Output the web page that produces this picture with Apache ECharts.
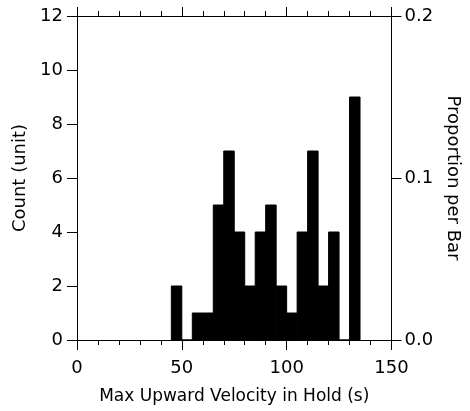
<!DOCTYPE html>
<html><head><meta charset="utf-8">
<script src="https://cdn.jsdelivr.net/npm/echarts@6/dist/echarts.min.js"></script>
<style>html,body{margin:0;padding:0;background:#fff}#c{width:470px;height:411px}</style>
</head><body><div id="c"></div>
<script>
// bin edges (start of each 5-unit bin) and counts
const binStarts = [45, 50, 55, 60, 65, 70, 75, 80, 85, 90, 95, 100, 105, 110, 115, 120, 125, 130];
const binWidth = 5;
const counts = [2, 0, 1, 1, 5, 7, 4, 2, 4, 5, 2, 1, 4, 7, 2, 4, 0, 9];
const xTicks = [0, 50, 100, 150];
const countTicks = [0, 2, 4, 6, 8, 10, 12];
const propTicks = [0.0, 0.1, 0.2];

const data = binStarts.map((s, i) => [s, s + binWidth, counts[i]]);
const font = 'DejaVu Sans, sans-serif';
const chart = echarts.init(document.getElementById('c'), null, {renderer: 'canvas'});
const lineStyle = {color: '#000', width: 1};
chart.setOption({
  animation: false,
  backgroundColor: '#fff',
  grid: {left: 77, right: 75, top: 16, bottom: 71, containLabel: false},
  xAxis: [{
    type: 'value', min: xTicks[0], max: xTicks[xTicks.length - 1], interval: 50,
    position: 'bottom',
    axisLine: {onZero: false, lineStyle}, splitLine: {show: false},
    axisTick: {show: true, length: 10, lineStyle},
    minorTick: {show: true, splitNumber: 5, length: 5, lineStyle},
    axisLabel: {color: '#000', fontSize: 18, fontFamily: font, margin: 19},
    name: 'Max Upward Velocity in Hold (s)', nameLocation: 'middle', nameGap: 48,
    nameTextStyle: {color: '#000', fontSize: 17, fontFamily: font}
  }, {
    type: 'value', min: 0, max: 150, interval: 50, position: 'top',
    axisLine: {onZero: false, lineStyle}, splitLine: {show: false},
    axisTick: {show: true, length: 9, lineStyle},
    minorTick: {show: true, splitNumber: 5, length: 5, lineStyle},
    axisLabel: {show: false}
  }],
  yAxis: [{
    type: 'value', min: countTicks[0], max: countTicks[countTicks.length - 1], interval: 2,
    position: 'left',
    axisLine: {show: true, onZero: false, lineStyle}, splitLine: {show: false},
    axisTick: {show: true, length: 10, lineStyle},
    axisLabel: {color: '#000', fontSize: 18, fontFamily: font, margin: 14},
    name: 'Count (unit)', nameLocation: 'middle', nameGap: 40, nameRotate: 90,
    nameTextStyle: {color: '#000', fontSize: 18, fontFamily: font}
  }, {
    type: 'value', min: propTicks[0], max: propTicks[propTicks.length - 1], interval: 0.1,
    position: 'right',
    axisLine: {show: true, onZero: false, lineStyle}, splitLine: {show: false},
    axisTick: {show: true, length: 10, lineStyle},
    axisLabel: {color: '#000', fontSize: 18, fontFamily: font, margin: 13,
      formatter: v => v.toFixed(1)},
    name: 'Proportion per Bar', nameLocation: 'middle', nameGap: 50, nameRotate: -90,
    nameTextStyle: {color: '#000', fontSize: 18, fontFamily: font}
  }],
  series: [{
    type: 'custom',
    xAxisIndex: 0, yAxisIndex: 0,
    renderItem: function (params, api) {
      const p0 = api.coord([api.value(0), api.value(2)]);
      const p1 = api.coord([api.value(1), 0]);
      return {
        type: 'rect',
        shape: {x: p0[0], y: p0[1], width: p1[0] - p0[0], height: p1[1] - p0[1]},
        style: {fill: '#000', stroke: '#000', lineWidth: 1}
      };
    },
    encode: {x: [0, 1], y: 2},
    data: data
  }]
});
</script></body></html>
